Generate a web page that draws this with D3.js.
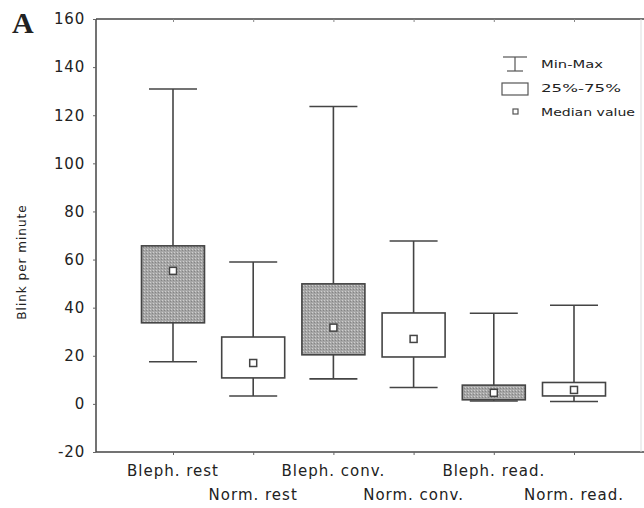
<!DOCTYPE html>
<html>
<head>
<meta charset="utf-8">
<script src="https://cdn.jsdelivr.net/npm/d3@7"></script>
<style>
  body { margin: 0; background: #fff; }
  svg { display: block; }
  text { font-family: "DejaVu Sans", "Liberation Sans", sans-serif; fill: #222; }
</style>
</head>
<body>
<div class="main"></div>
<script>
const w = 644, h = 508;

// data
const categories = ['Bleph. rest', 'Norm. rest', 'Bleph. conv.', 'Norm. conv.', 'Bleph. read.', 'Norm. read.'];
const minValues = [17.5, 3.3, 10.4, 6.8, 1.2, 1.0];
const q1Values = [33.7, 10.8, 20.4, 19.5, 1.7, 3.3];
const medianValues = [55.3, 17.0, 31.7, 27.0, 4.6, 5.8];
const q3Values = [65.7, 27.8, 49.9, 37.8, 7.8, 8.9];
const maxValues = [130.9, 59.0, 123.6, 67.7, 37.7, 41.0];
const shaded = [true, false, true, false, true, false];
const yTicks = [-20, 0, 20, 40, 60, 80, 100, 120, 140, 160];
const legendLabels = ['Min-Max', '25%-75%', 'Median value'];

const rows = categories.map((c, i) => ({
    cat: c, min: minValues[i], q1: q1Values[i], med: medianValues[i],
    q3: q3Values[i], max: maxValues[i], shaded: shaded[i], i: i
}));

const svg = d3.select('.main')
            .append('svg')
            .attr('width', w)
            .attr('height', h)

// stippled grey fill
const pat = svg.append('defs').append('pattern')
    .attr('id', 'stipple')
    .attr('patternUnits', 'userSpaceOnUse')
    .attr('width', 3).attr('height', 3)
pat.append('rect').attr('width', 3).attr('height', 3).attr('fill', '#a6a6a6')
pat.append('rect').attr('x', 0).attr('y', 0).attr('width', 1).attr('height', 1).attr('fill', '#cfcfcf')
pat.append('rect').attr('x', 2).attr('y', 1).attr('width', 1).attr('height', 1).attr('fill', '#858585')

const plotL = 96, plotT = 19, plotB = 452, plotR = 641;

const y = d3.scaleLinear()
            .domain([-20, 160])
            .range([plotB, plotT])

const x = d3.scalePoint()
            .domain(categories)
            .range([173, 574])

const boxW = 63, capW = 48;

// frame
const frame = svg.append('g').attr('stroke', '#444').attr('stroke-width', 1.5)
frame.append('line').attr('x1', plotL).attr('x2', plotL).attr('y1', plotT).attr('y2', plotB)
frame.append('line').attr('x1', plotL).attr('x2', w).attr('y1', plotT).attr('y2', plotT)
frame.append('line').attr('x1', plotL).attr('x2', w).attr('y1', plotB).attr('y2', plotB)
svg.append('line').attr('x1', plotR).attr('x2', plotR).attr('y1', plotT).attr('y2', plotB)
    .attr('stroke', '#ddd').attr('stroke-width', 1)

// y axis
const yAxis = svg.append('g')
    .attr('transform', `translate(${plotL},0)`)
    .call(d3.axisLeft(y).tickValues(yTicks).tickSize(3).tickPadding(8).tickFormat(d => String(d)))
yAxis.select('.domain').remove()
yAxis.selectAll('line').attr('stroke', '#666')
yAxis.selectAll('text')
    .attr('font-size', 15)
    .attr('letter-spacing', 0.8)
    .attr('fill', '#222')

// x axis ticks
const xAxis = svg.append('g')
    .attr('transform', `translate(0,${plotB})`)
    .call(d3.axisBottom(x).tickSize(3).tickFormat(''))
xAxis.select('.domain').remove()
xAxis.selectAll('line').attr('stroke', '#666')
svg.append('g')
    .attr('transform', `translate(0,${plotT})`)
    .call(d3.axisTop(x).tickSize(-3).tickFormat(''))
    .call(g => g.select('.domain').remove())
    .selectAll('line').attr('stroke', '#888')

// category labels, staggered
svg.append('g').selectAll('text')
    .data(rows)
    .enter()
    .append('text')
    .attr('x', d => x(d.cat))
    .attr('y', d => d.i % 2 === 0 ? 476 : 500)
    .attr('text-anchor', 'middle')
    .attr('font-size', 15)
    .attr('letter-spacing', 1)
    .text(d => d.cat)

// y label
svg.append('text')
    .attr('transform', 'translate(26,262) rotate(-90)')
    .attr('text-anchor', 'middle')
    .attr('font-size', 12)
    .attr('letter-spacing', 1)
    .text('Blink per minute')

// panel letter
svg.append('text')
    .attr('x', 12).attr('y', 33)
    .style('font-family', '"Liberation Serif", "DejaVu Serif", serif')
    .attr('font-weight', 'bold')
    .attr('font-size', 30)
    .text('A')

// boxes
const box = svg.append('g').selectAll('g')
    .data(rows)
    .enter()
    .append('g')
    .attr('stroke', '#444')
    .attr('stroke-width', 1.6)

box.append('line')
    .attr('x1', d => x(d.cat)).attr('x2', d => x(d.cat))
    .attr('y1', d => y(d.max)).attr('y2', d => y(d.min))
box.append('line')
    .attr('x1', d => x(d.cat) - capW / 2).attr('x2', d => x(d.cat) + capW / 2)
    .attr('y1', d => y(d.max)).attr('y2', d => y(d.max))
box.append('line')
    .attr('x1', d => x(d.cat) - capW / 2).attr('x2', d => x(d.cat) + capW / 2)
    .attr('y1', d => y(d.min)).attr('y2', d => y(d.min))
box.append('rect')
    .attr('x', d => x(d.cat) - boxW / 2)
    .attr('width', boxW)
    .attr('y', d => y(d.q3))
    .attr('height', d => y(d.q1) - y(d.q3))
    .attr('fill', d => d.shaded ? 'url(#stipple)' : '#fff')
box.append('rect')
    .attr('x', d => x(d.cat) - 3.5)
    .attr('y', d => y(d.med) - 3.5)
    .attr('width', 7).attr('height', 7)
    .attr('fill', '#fff')
    .attr('stroke-width', 1.5)

// legend
const legend = svg.append('g').attr('stroke', '#555').attr('stroke-width', 1.2)
legend.append('line').attr('x1', 503).attr('x2', 527).attr('y1', 57).attr('y2', 57)
legend.append('line').attr('x1', 515).attr('x2', 515).attr('y1', 57).attr('y2', 71)
legend.append('line').attr('x1', 507).attr('x2', 523).attr('y1', 71).attr('y2', 71)
legend.append('rect').attr('x', 502).attr('y', 83).attr('width', 26).attr('height', 12).attr('fill', '#fff')
legend.append('rect').attr('x', 513).attr('y', 109).attr('width', 5).attr('height', 5).attr('fill', '#fff')

const legendLens = [62, 80, 94];
svg.append('g').selectAll('text')
    .data(legendLabels)
    .enter()
    .append('text')
    .attr('x', 541)
    .attr('y', (d, i) => 68 + i * 24)
    .attr('font-size', 11)
    .attr('textLength', (d, i) => legendLens[i])
    .attr('lengthAdjust', 'spacingAndGlyphs')
    .text(d => d)
</script>
</body>
</html>
